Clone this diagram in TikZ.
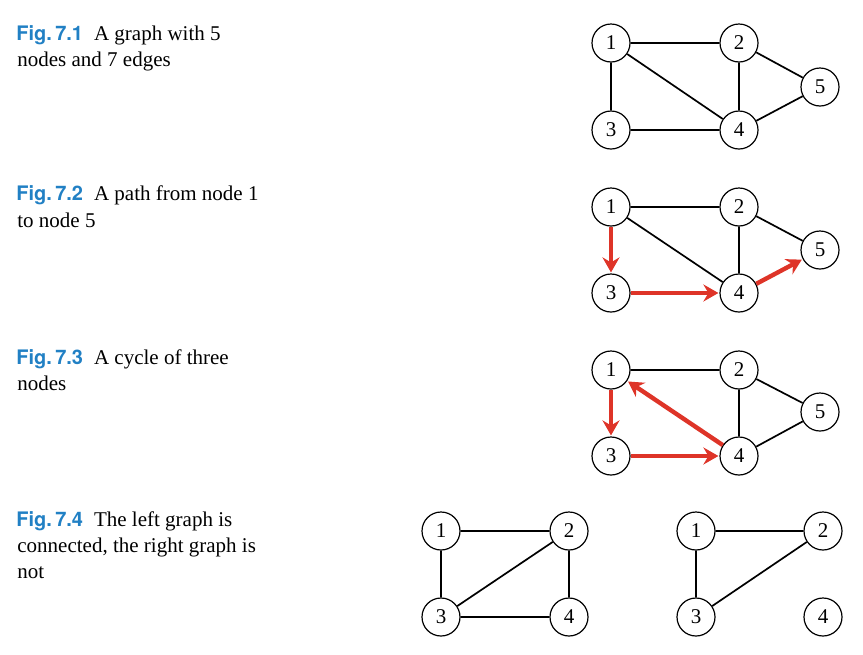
\documentclass[tikz,border=0pt]{standalone}
\usepackage{fontspec}
\setmainfont{Liberation Serif}
\newfontfamily\figfont{TeX Gyre Heros}
\usetikzlibrary{arrows.meta}
\definecolor{figblue}{RGB}{33,128,196}
\definecolor{pathred}{RGB}{222,52,40}
\newcommand{\figlabel}[1]{{\figfont\fontsize{10}{13}\selectfont\bfseries\color{figblue}Fig.\,#1}\hspace{5.5pt}}
\begin{document}
\begin{tikzpicture}[x=0.5pt,y=-0.5pt,
  vtx/.style={circle,draw,line width=0.6pt,minimum size=19pt,inner sep=0pt,font=\fontsize{10.5}{13}\selectfont},
  edge/.style={line width=0.85pt},
  redarrow/.style={line width=2.2pt,pathred,-{Stealth[length=7.5pt,width=8.5pt,inset=2.5pt]},shorten >=0.5pt},
  captext/.style={anchor=base west,inner sep=0pt,font=\fontsize{10.5}{13}\selectfont}]
\useasboundingbox (0,0) rectangle (863,654);
% captions
\node[captext] (c1a) at (16,40) {\figlabel{7.1}A graph with 5};
\node[captext] (c1b) at (17,66) {nodes and 7 edges};
\node[captext] (c2a) at (16,200) {\figlabel{7.2}A path from node 1};
\node[captext] (c2b) at (17,227) {to node 5};
\node[captext] (c3a) at (16,364) {\figlabel{7.3}A cycle of three};
\node[captext] (c3b) at (17,390) {nodes};
\node[captext] (c4a) at (16,526) {\figlabel{7.4}The left graph is};
\node[captext] (c4b) at (17,552) {connected, the right graph is};
\node[captext] (c4c) at (17,578) {not};
% Fig 7.1
\node[vtx] (a1) at (611,43) {1};
\node[vtx] (a2) at (739,43) {2};
\node[vtx] (a3) at (611,130) {3};
\node[vtx] (a4) at (739,130) {4};
\node[vtx] (a5) at (820,87) {5};
\draw[edge] (a1)--(a2) (a1)--(a3) (a1)--(a4) (a2)--(a4) (a2)--(a5) (a3)--(a4) (a4)--(a5);
% Fig 7.2
\node[vtx] (b1) at (611,207) {1};
\node[vtx] (b2) at (739,207) {2};
\node[vtx] (b3) at (611,293) {3};
\node[vtx] (b4) at (739,293) {4};
\node[vtx] (b5) at (820,250) {5};
\draw[edge] (b1)--(b2) (b1)--(b4) (b2)--(b4) (b2)--(b5);
\draw[redarrow] (b1)--(b3);
\draw[redarrow] (b3)--(b4);
\draw[redarrow] (b4)--(b5);
% Fig 7.3
\node[vtx] (d1) at (611,370) {1};
\node[vtx] (d2) at (739,370) {2};
\node[vtx] (d3) at (611,456) {3};
\node[vtx] (d4) at (739,456) {4};
\node[vtx] (d5) at (820,412) {5};
\draw[edge] (d1)--(d2) (d2)--(d4) (d2)--(d5) (d4)--(d5);
\draw[redarrow] (d1)--(d3);
\draw[redarrow] (d3)--(d4);
\draw[redarrow] (d4)--(d1);
% Fig 7.4 left
\node[vtx] (e1) at (441,531) {1};
\node[vtx] (e2) at (569,531) {2};
\node[vtx] (e3) at (441,617) {3};
\node[vtx] (e4) at (569,617) {4};
\draw[edge] (e1)--(e2) (e1)--(e3) (e2)--(e3) (e2)--(e4) (e3)--(e4);
% Fig 7.4 right
\node[vtx] (f1) at (696,531) {1};
\node[vtx] (f2) at (823,531) {2};
\node[vtx] (f3) at (696,617) {3};
\node[vtx] (f4) at (823,617) {4};
\draw[edge] (f1)--(f2) (f1)--(f3) (f2)--(f3);
\end{tikzpicture}
\end{document}
